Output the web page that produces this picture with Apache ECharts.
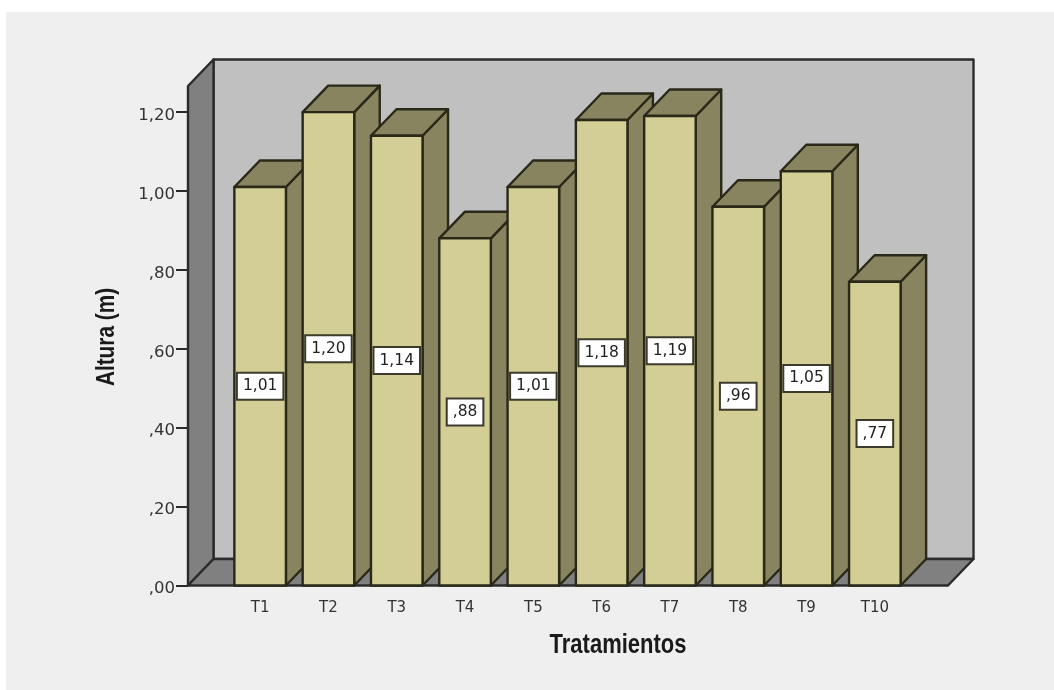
<!DOCTYPE html>
<html>
<head>
<meta charset="utf-8">
<style>
  html, body { margin: 0; padding: 0; background: #ffffff; }
  #chart { width: 1054px; height: 690px; }
</style>
<script src="https://cdn.jsdelivr.net/npm/echarts@6/dist/echarts.min.js"></script>
</head>
<body>
<div id="chart"></div>
<script>
// Plant height per treatment
const categories = ['T1', 'T2', 'T3', 'T4', 'T5', 'T6', 'T7', 'T8', 'T9', 'T10'];
const heights = [1.01, 1.20, 1.14, 0.88, 1.01, 1.18, 1.19, 0.96, 1.05, 0.77];
const yTicks = [0, 0.2, 0.4, 0.6, 0.8, 1.0, 1.2];
const yMax = 1.2661;

// Extruded box look
const depthX = 25.5;
const depthY = 26.5;
const wallPadLeft = 38;
const wallPadRight = 39;
const barRatio = 0.755;

const colors = {
  panel: '#efefef',
  back: '#c0c0c0',
  wall: '#808080',
  edge: '#2b2b2b',
  barFront: '#d3ce95',
  barShade: '#87845f',
  barEdge: '#2a2818',
  text: '#333333',
  title: '#1a1a1a'
};

// Decimal comma and no leading zero: 0.88 -> ,88
const fmt = v => v.toFixed(2).replace('.', ',').replace(/^0/, '');

function renderRoom(params) {
  const c = params.coordSys;
  const l = c.x - wallPadLeft, r = c.x + c.width + wallPadRight;
  const t = c.y, b = c.y + c.height;
  const wallStyle = { stroke: colors.edge, lineWidth: 2.4, lineJoin: 'round' };
  return {
    type: 'group',
    children: [
      { type: 'rect', shape: { x: l + depthX, y: t - depthY, width: r - l, height: b - t },
        style: { fill: colors.back, ...wallStyle } },
      { type: 'polygon', shape: { points: [[l, b], [l, t], [l + depthX, t - depthY], [l + depthX, b - depthY]] },
        style: { fill: colors.wall, ...wallStyle } },
      { type: 'polygon', shape: { points: [[l, b], [r, b], [r + depthX, b - depthY], [l + depthX, b - depthY]] },
        style: { fill: colors.wall, ...wallStyle } }
    ]
  };
}

function renderBar(params, api) {
  const top = api.coord([api.value(0), api.value(1)]);
  const base = api.coord([api.value(0), 0]);
  const w = api.size([1, 0])[0] * barRatio;
  const x0 = top[0] - w / 2, x1 = top[0] + w / 2;
  const y0 = top[1], y1 = base[1];
  const edge = { stroke: colors.barEdge, lineWidth: 2.4, lineJoin: 'round' };
  return {
    type: 'group',
    children: [
      { type: 'polygon', shape: { points: [[x1, y0], [x1 + depthX, y0 - depthY], [x1 + depthX, y1 - depthY], [x1, y1]] },
        style: { fill: colors.barShade, ...edge } },
      { type: 'polygon', shape: { points: [[x0, y0], [x0 + depthX, y0 - depthY], [x1 + depthX, y0 - depthY], [x1, y0]] },
        style: { fill: colors.barShade, ...edge } },
      { type: 'rect', shape: { x: x0, y: y0, width: w, height: y1 - y0 },
        style: { fill: colors.barFront, ...edge } },
      { type: 'text', x: top[0], y: (y0 + y1) / 2,
        style: {
          text: fmt(api.value(1)),
          align: 'center', verticalAlign: 'middle',
          font: '15.5px "DejaVu Sans"',
          fill: '#222222',
          backgroundColor: '#ffffff',
          borderColor: '#3c3a2c',
          borderWidth: 2,
          padding: [5, 5, 4, 5]
        } }
    ]
  };
}

const chart = echarts.init(document.getElementById('chart'), null, { renderer: 'canvas' });
chart.setOption({
  animation: false,
  backgroundColor: 'transparent',
  graphic: [
    {
      type: 'rect', z: -10, silent: true,
      shape: { x: 6, y: 12, width: 1048, height: 678 },
      style: { fill: colors.panel }
    },
    // Axis titles use a condensed bold face, obtained by squeezing the text horizontally
    {
      type: 'text', silent: true, x: 618, y: 645, scaleX: 0.785,
      style: {
        text: 'Tratamientos', align: 'center', verticalAlign: 'middle',
        font: 'bold 28px "Liberation Sans"', fill: colors.title
      }
    },
    {
      type: 'text', silent: true, x: 107, y: 337, rotation: Math.PI / 2, scaleX: 0.8,
      style: {
        text: 'Altura (m)', align: 'center', verticalAlign: 'middle',
        font: 'bold 26px "Liberation Sans"', fill: colors.title
      }
    }
  ],
  grid: { left: 226, top: 86, width: 683, height: 499.5 },
  xAxis: {
    type: 'category',
    data: categories,
    axisLine: { show: false },
    axisTick: { alignWithLabel: true, length: 10, lineStyle: { color: colors.edge, width: 2 } },
    axisLabel: { interval: 0, margin: 15, color: colors.text, fontFamily: 'DejaVu Sans', fontSize: 15 }
  },
  yAxis: {
    type: 'value',
    min: 0,
    max: yMax,
    offset: wallPadLeft,
    splitLine: { show: false },
    axisLine: { show: false },
    axisTick: { show: true, length: 12, customValues: yTicks, lineStyle: { color: colors.edge, width: 2 } },
    axisLabel: {
      customValues: yTicks, margin: 13, color: colors.text,
      fontFamily: 'DejaVu Sans', fontSize: 16.5,
      // Tick labels sit slightly below their tick marks
      verticalAlign: 'top', lineHeight: 7, formatter: v => fmt(v)
    }
  },
  series: [
    { type: 'custom', name: 'Sala', z: 1, silent: true, data: [[0, 0]], renderItem: renderRoom, clip: false },
    { type: 'custom', name: 'Altura', z: 2, silent: true, clip: false,
      encode: { x: 0, y: 1 },
      data: categories.map((c, i) => [i, heights[i]]),
      renderItem: renderBar }
  ]
});
</script>
</body>
</html>
